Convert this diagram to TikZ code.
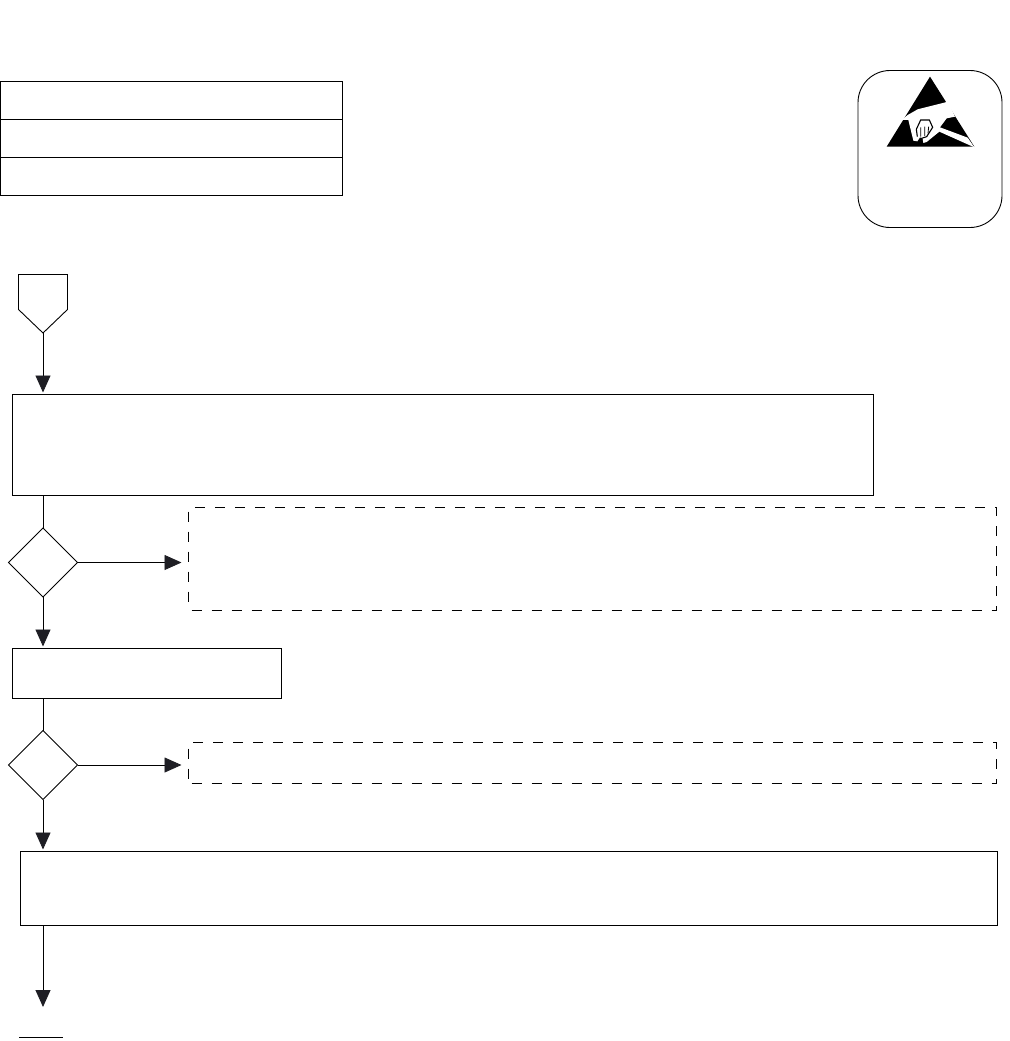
\documentclass[tikz,border=0pt]{standalone}
\usetikzlibrary{arrows.meta, calc, positioning}
\definecolor{myTipBlack}{RGB}{30, 30, 36}
\tikzstyle{box}= [draw=black, line width=0.9pt, inner sep=0pt, outer sep=0pt, anchor=north west]
\tikzstyle{dashbox}= [box, line width=1pt, dash pattern=on 10pt off 10pt, dash phase=-3pt]
\tikzstyle{link}= [line width=0.9pt]
\tikzstyle{flow}= [link, -{Triangle[length=17pt,width=15pt,color=myTipBlack]}]

\begin{document}
\begin{tikzpicture}[x=1pt,y=-1pt]
    \useasboundingbox (0,0) rectangle (1009,1041);

    % header table
    \node [box, minimum width=342pt, minimum height=38pt] (RowA) at (0.5,81.5) {};
    \node [box, minimum width=342pt, minimum height=38pt] (RowB) at (0.5,119.5) {};
    \node [box, minimum width=342pt, minimum height=38pt] (RowC) at (0.5,157.5) {};

    % badge
    \node [box, rounded corners=32pt, minimum width=144pt, minimum height=157pt] (Badge) at (858,70.5) {};
    \begin{scope}[shift={(880,70)}, x=0.3333pt, y=-0.3333pt]
        \fill [black] (150,20) -- (283,230) -- (20,230) -- cycle;
        \fill [white] (200,90) -- (197,97) -- (113,118) -- (83,135) -- (65,150) -- (85,150)
            -- (100,212) -- (112,214) -- (120,202) -- (128,206) -- (130,219) -- (140,216)
            -- (178,185) -- (283,232) -- (263,203) -- (180,172)
            -- (200,145) -- (225,140) -- cycle;
        \draw [black, line width=1.1pt] (112,200) -- (109,178) -- (122,150) -- (148,150)
            -- (158,172) -- (140,200) -- (122,206);
        \draw [black, line width=0.8pt] (122,172) -- (122,200) (134,170) -- (134,198) (146,170) -- (144,190);
    \end{scope}

    % flow nodes
    \draw [link] (18.5,274.5) -- (67.5,274.5) -- (67.5,309.5) -- (43,333) -- (18.5,309.5) -- cycle;
    \coordinate (Start) at (43,333);
    \node [box, minimum width=861pt, minimum height=101pt] (Check) at (12.5,394.5) {};
    \node [dashbox, minimum width=808pt, minimum height=103pt] (NoteA) at (188.5,507.5) {};
    \node [box, minimum width=269pt, minimum height=50pt] (Fix) at (12.5,648.5) {};
    \node [dashbox, minimum width=808pt, minimum height=41pt] (NoteB) at (188.5,742.5) {};
    \node [box, minimum width=977pt, minimum height=74pt] (Final) at (20.5,851.5) {};

    \draw [link] (8.5,562.5) -- (43,528) -- (77.5,562.5) -- (43,597) -- cycle;
    \draw [link] (8.5,765) -- (43,730.5) -- (77.5,765) -- (43,799.5) -- cycle;
    \coordinate (DecA) at (43,528);
    \coordinate (DecAout) at (77.5,562.5);
    \coordinate (DecAend) at (43,597);
    \coordinate (DecB) at (43,730.5);
    \coordinate (DecBout) at (77.5,765);
    \coordinate (DecBend) at (43,799.5);

    % flow path
    \draw [flow, shorten >=2pt] (Start) -- (Check.north -| Start);
    \draw [link] (Check.south -| Start) -- (DecA);
    \draw [flow, shorten >=7pt] (DecAout) -- (NoteA.west |- DecAout);
    \draw [flow, shorten >=2pt] (DecAend) -- (Fix.north -| DecAend);
    \draw [link] (Fix.south -| DecB) -- (DecB);
    \draw [flow, shorten >=7pt] (DecBout) -- (NoteB.west |- DecBout);
    \draw [flow, shorten >=2pt] (DecBend) -- (Final.north -| DecBend);
    \coordinate (Tail) at (43,1007);
    \draw [flow] (Final.south -| Tail) -- (Tail);

    % page mark
    \draw [link] (19,1037) -- (63,1037);
\end{tikzpicture}
\end{document}
